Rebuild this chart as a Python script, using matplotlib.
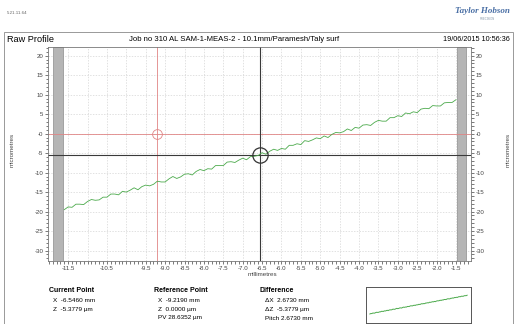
import matplotlib.pyplot as plt
import numpy as np
from matplotlib.patches import Rectangle
from matplotlib.ticker import MultipleLocator

plt.rcParams['font.family'] = ['Liberation Sans', 'DejaVu Sans']

# raw profile, one reading every 0.1 mm from -11.6 to -1.5 mm (micrometres)
profile_start = -11.6
profile_end = -1.5
profile_z = [
    -19.5, -18.8, -18.9, -18.1, -18.1, -18.2, -17.4, -16.9, -17.1, -17.0,
    -16.3, -16.3, -15.5, -15.5, -15.7, -14.8, -15.0, -14.5, -13.9, -14.4,
    -13.6, -13.2, -13.4, -13.0, -12.2, -12.4, -12.4, -11.6, -11.0, -11.5,
    -11.1, -10.4, -10.3, -10.6, -9.7, -9.2, -9.5, -9.0, -9.1, -8.2,
    -8.2, -8.2, -7.3, -7.2, -7.4, -6.8, -6.3, -6.7, -5.9, -5.8,
    -5.6, -4.9, -5.3, -4.5, -4.0, -4.3, -3.8, -4.0, -3.0, -3.0,
    -2.6, -2.8, -1.8, -2.0, -1.6, -1.1, -1.3, -0.6, -1.0, -0.2,
    0.3, 0.2, 0.5, 1.2, 0.8, 1.6, 1.4, 2.2, 2.3, 2.1,
    2.9, 3.4, 3.2, 3.2, 4.1, 4.1, 4.6, 4.4, 5.3, 5.1,
    5.6, 5.4, 6.3, 6.5, 6.4, 7.2, 7.1, 7.1, 7.9, 8.0,
    8.0, 8.7,
]
excluded_zones = [(-11.89, -11.64), (-1.48, -1.25)]

current_x, current_z = -6.5460, -5.3779
reference_x, reference_z = -9.2190, 0.0000
pv = 28.6352

x_ticks = np.arange(-11.5, -1.4, 0.5)
x_labels = ['' if t in (-11.0, -10.0) else f'{t:.1f}' for t in x_ticks]
y_ticks = np.arange(20, -31, -5)
y_labels = ['-0' if t == 0 else str(t) for t in y_ticks]

x_profile = np.linspace(profile_start, profile_end, len(profile_z))

W, H = 515, 324
fig = plt.figure(figsize=(W / 100, H / 100), dpi=100)

# outer frame
fig.patches.append(Rectangle((4 / W, -0.01), 509 / W, 1 - 32 / H + 0.01,
                             transform=fig.transFigure, fill=False,
                             ec='#999999', lw=0.7))

fig.text(7 / W, 1 - 13 / H, '5.21.11.64', fontsize=3.2, color='#666666',
         va='center')
fig.text(455 / W, 1 - 11 / H, 'Taylor Hobson', fontsize=6.5, color='#4a6fa5',
         family='Liberation Serif', style='italic', weight='bold', va='center')
fig.text(480 / W, 1 - 19 / H, 'PRECISION', fontsize=2, color='#8899aa',
         va='center')

fig.text(7 / W, 1 - 39.5 / H, 'Raw Profile', fontsize=6.6, va='center')
fig.text(234 / W, 1 - 39.5 / H,
         'Job no 310 AL SAM-1-MEAS-2 - 10.1mm/Paramesh/Taly surf',
         fontsize=5.6, ha='center', va='center')
fig.text(510 / W, 1 - 39.5 / H, '19/06/2015 10:56:36', fontsize=5.2,
         ha='right', va='center')

ax = fig.add_axes([48 / W, 1 - 260.7 / H, (470.7 - 48) / W, (260.7 - 47.3) / H])
ax.set_xlim(-12.02, -1.12)
ax.set_ylim(-32.6, 22.15)
ax.set_axisbelow(True)

for a, b in excluded_zones:
    ax.axvspan(a, b, color='#b5b5b5', ec='#8c8c8c', lw=0.5)

ax.set_xticks(x_ticks)
ax.set_xticklabels(x_labels)
ax.set_yticks(y_ticks)
ax.set_yticklabels(y_labels)
ax.xaxis.set_minor_locator(MultipleLocator(0.1))
ax.yaxis.set_minor_locator(MultipleLocator(1))
ax.grid(True, which='major', ls=(0, (2, 2)), color='#d4d4d4', lw=0.5)
ax.tick_params(axis='both', which='both', direction='out', labelsize=4.4,
               colors='#444444', width=0.5, pad=1)
ax.tick_params(which='major', length=2.5)
ax.tick_params(which='minor', length=1.8)
ax.tick_params(axis='y', which='both', left=True, right=True, labelright=True)
for s in ax.spines.values():
    s.set_color('#777777')
    s.set_linewidth(0.6)

ax.axhline(reference_z, color='#e08585', lw=0.6)
ax.axvline(reference_x, color='#e08585', lw=0.6)
ax.axhline(current_z, color='#3a3a3a', lw=0.8)
ax.axvline(current_x, color='#3a3a3a', lw=0.8)

ax.plot(x_profile, profile_z, color='#4caa4c', lw=0.6)

ax.plot(reference_x, reference_z, 'o', mfc='none', mec='#e08585', ms=7, mew=0.6)
ax.plot(current_x, current_z, 'o', mfc='none', mec='#333333', ms=11, mew=0.9)

fig.text(262 / W, 1 - 274 / H, 'millimetres', fontsize=4.5, ha='center',
         va='center', color='#444444')
fig.text(12 / W, 1 - 150 / H, 'micrometres', fontsize=4.5, rotation=90,
         ha='center', va='center', color='#444444')
fig.text(508 / W, 1 - 150 / H, 'micrometres', fontsize=4.5, rotation=90,
         ha='center', va='center', color='#444444')

# read-out panel
info_fs = 4.6
head_fs = 5.0
fig.text(49 / W, 1 - 291 / H, 'Current Point', fontsize=head_fs,
         weight='bold', va='center')
fig.text(53 / W, 1 - 300 / H, f'X  {current_x:.4f} mm', fontsize=info_fs,
         va='center')
fig.text(53 / W, 1 - 309 / H, f'Z  {current_z:.4f} µm', fontsize=info_fs,
         va='center')

fig.text(154 / W, 1 - 291 / H, 'Reference Point', fontsize=head_fs,
         weight='bold', va='center')
fig.text(158 / W, 1 - 300 / H, f'X  {reference_x:.4f} mm', fontsize=info_fs,
         va='center')
fig.text(158 / W, 1 - 309 / H, f'Z  {reference_z:.4f} µm', fontsize=info_fs,
         va='center')
fig.text(158 / W, 1 - 318 / H, f'PV {pv:.4f} µm', fontsize=info_fs,
         va='center')

dx = current_x - reference_x
dz = current_z - reference_z
fig.text(260 / W, 1 - 291 / H, 'Difference', fontsize=head_fs,
         weight='bold', va='center')
fig.text(265 / W, 1 - 300 / H, f'ΔX  {dx:.4f} mm', fontsize=info_fs,
         va='center')
fig.text(265 / W, 1 - 309 / H, f'ΔZ  {dz:.4f} µm', fontsize=info_fs,
         va='center')
fig.text(265 / W, 1 - 318 / H, f'Pitch {dx:.4f} mm', fontsize=info_fs,
         va='center')

# overview thumbnail
thumb = fig.add_axes([366 / W, 1 - 323 / H, 105 / W, 36 / H])
thumb.plot(x_profile, profile_z, color='#4caa4c', lw=0.7)
thumb.set_xlim(-12.0, -1.1)
thumb.set_ylim(-33, 21)
thumb.set_xticks([])
thumb.set_yticks([])
for s in thumb.spines.values():
    s.set_color('#555555')
    s.set_linewidth(0.7)

fig.savefig('out.png', dpi=100)
